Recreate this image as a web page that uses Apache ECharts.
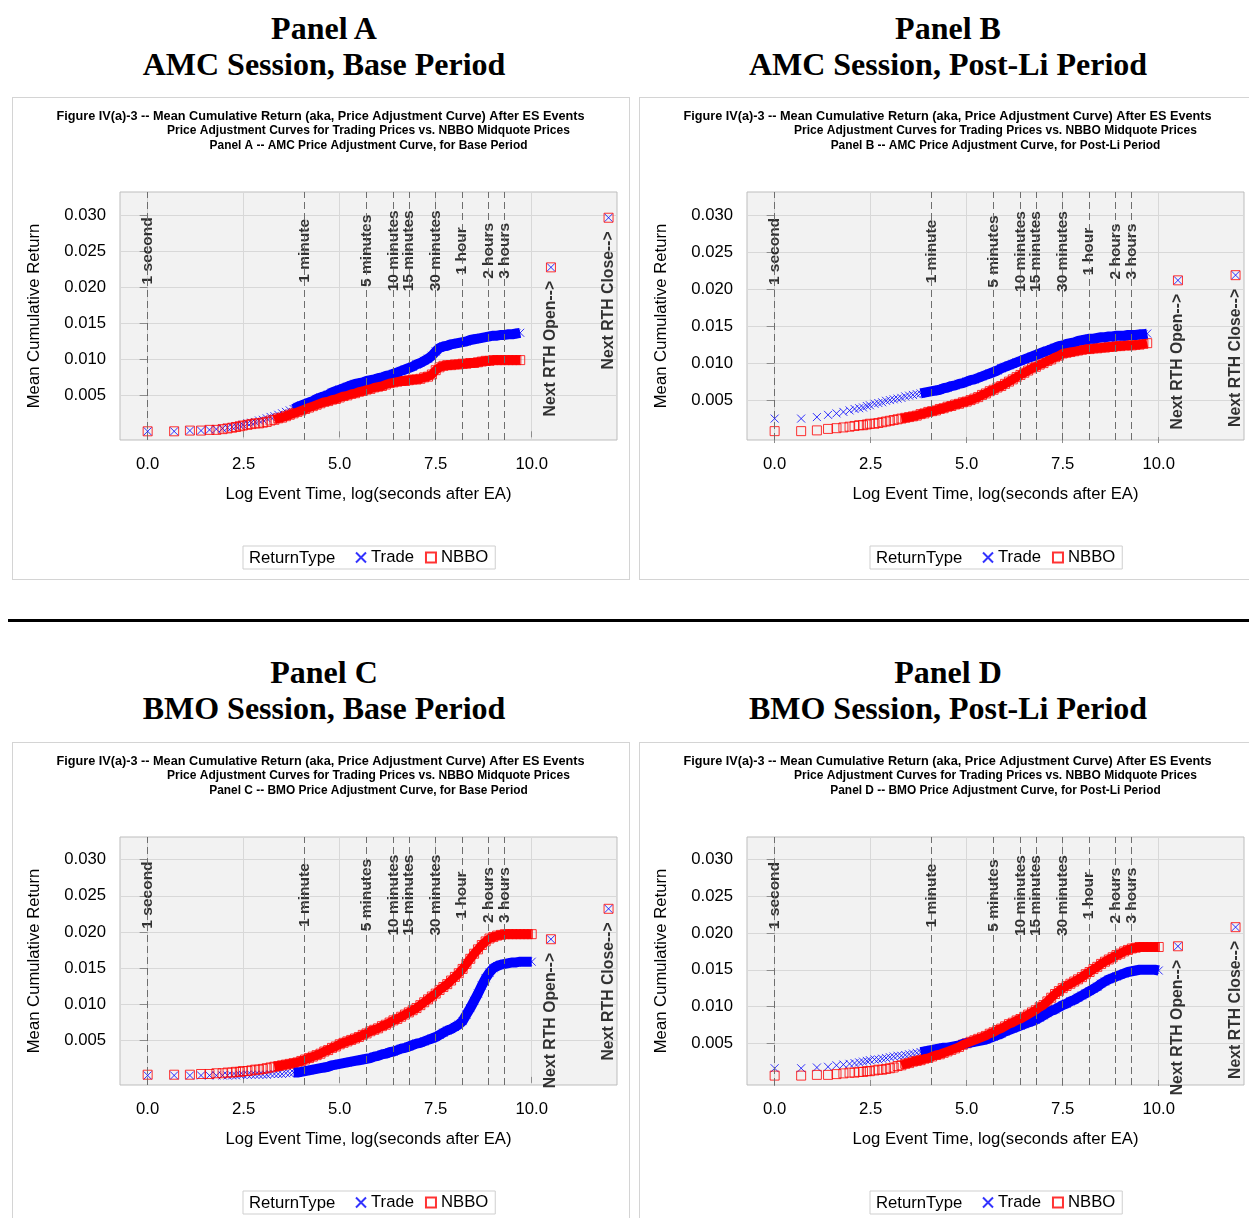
<!DOCTYPE html>
<html>
<head>
<meta charset="utf-8">
<script src="https://cdn.jsdelivr.net/npm/echarts@6/dist/echarts.min.js"></script>
<style>
  html, body { margin: 0; padding: 0; background: #fff; overflow: hidden; width: 1249px; height: 1218px; }
  .big { position: absolute; width: 600px; text-align: center; font-family: 'Liberation Serif', 'Times New Roman', serif;
         font-weight: bold; font-size: 32px; line-height: 36px; color: #000; }
  .frame { position: absolute; width: 616px; height: 481px; border: 1px solid #d4d4d4; }
  .chart { position: absolute; left: 0; top: 0; width: 616px; height: 481px; }
  .rule { position: absolute; left: 8px; top: 619px; width: 1241px; height: 3px; background: #000; }
</style>
</head>
<body>
<div class="big" style="left:24px;top:10px">Panel A<br>AMC Session, Base Period</div>
<div class="big" style="left:648px;top:10px">Panel B<br>AMC Session, Post-Li Period</div>
<div class="big" style="left:24px;top:654px">Panel C<br>BMO Session, Base Period</div>
<div class="big" style="left:648px;top:654px">Panel D<br>BMO Session, Post-Li Period</div>
<div class="rule"></div>
<div class="frame" style="left:12px;top:97px"><div class="chart" id="panelA"></div></div>
<div class="frame" style="left:639px;top:97px"><div class="chart" id="panelB"></div></div>
<div class="frame" style="left:12px;top:742px"><div class="chart" id="panelC"></div></div>
<div class="frame" style="left:639px;top:742px"><div class="chart" id="panelD"></div></div>

<script>
// log(seconds after EA): single seconds first, then the dense part of the curve
var logTime = [0, 0.69, 1.10, 1.39, 1.61, 1.79, 1.95, 2.08, 2.20, 2.30, 2.40, 2.48,
  2.6, 2.7, 2.8, 2.9, 3.0, 3.1, 3.2, 3.3, 3.4, 3.5, 3.6, 3.7, 3.8, 3.9,
  4.0, 4.1, 4.2, 4.3, 4.4, 4.5, 4.6, 4.7, 4.8, 4.9,
  5.0, 5.1, 5.2, 5.3, 5.4, 5.5, 5.6, 5.7, 5.8, 5.9,
  6.0, 6.1, 6.2, 6.3, 6.4, 6.5, 6.6, 6.7, 6.8, 6.9,
  7.0, 7.1, 7.2, 7.3, 7.4, 7.5, 7.6, 7.7, 7.8, 7.9,
  8.0, 8.1, 8.2, 8.3, 8.4, 8.5, 8.6, 8.7, 8.8, 8.9,
  9.0, 9.1, 9.2, 9.3, 9.4, 9.5, 9.6, 9.7, 9.8, 9.9,
  10.0];

// Panel A -- AMC, base period
var tradeA = [0.0000, 0.0000, 0.0001, 0.0001, 0.0002, 0.0003, 0.0004, 0.0005, 0.0006, 0.0007, 0.0008, 0.0009,
  0.0011, 0.0012, 0.0013, 0.0015, 0.0016, 0.0018, 0.0020, 0.0021, 0.0023, 0.0025, 0.0027, 0.0029, 0.0031, 0.0034,
  0.0036, 0.0038, 0.0040, 0.0042, 0.0045, 0.0047, 0.0049, 0.0051, 0.0054, 0.0056,
  0.0058, 0.0060, 0.0062, 0.0064, 0.0066, 0.0067, 0.0068, 0.0070, 0.0071, 0.0072,
  0.0074, 0.0075, 0.0077, 0.0078, 0.0080, 0.0082, 0.0084, 0.0086, 0.0088, 0.0090,
  0.0093, 0.0095, 0.0098, 0.0101, 0.0105, 0.0111, 0.0116, 0.0118, 0.0119, 0.0121,
  0.0122, 0.0123, 0.0124, 0.0125, 0.0127, 0.0128, 0.0129, 0.0130, 0.0131, 0.0132,
  0.0133, 0.0133, 0.0134, 0.0134, 0.0135, 0.0135, 0.0136, 0.0137];
var nbboA = [0.0000, 0.0000, 0.0001, 0.0001, 0.0002, 0.0002, 0.0003, 0.0004, 0.0005, 0.0006, 0.0007, 0.0008,
  0.0009, 0.0010, 0.0011, 0.0011, 0.0012, 0.0013, 0.0015, 0.0016, 0.0018, 0.0019, 0.0021, 0.0023, 0.0025, 0.0027,
  0.0029, 0.0031, 0.0033, 0.0035, 0.0037, 0.0039, 0.0041, 0.0042, 0.0044, 0.0045,
  0.0047, 0.0049, 0.0050, 0.0052, 0.0053, 0.0055, 0.0056, 0.0058, 0.0059, 0.0061,
  0.0062, 0.0063, 0.0065, 0.0067, 0.0068, 0.0069, 0.0070, 0.0070, 0.0071, 0.0072,
  0.0072, 0.0073, 0.0075, 0.0076, 0.0079, 0.0085, 0.0089, 0.0091, 0.0092, 0.0092,
  0.0093, 0.0093, 0.0094, 0.0094, 0.0095, 0.0095, 0.0096, 0.0097, 0.0098, 0.0098,
  0.0099, 0.0099, 0.0099, 0.0099, 0.0099, 0.0099, 0.0099, 0.0099];
var rthA = [0.0228, 0.0297];

// Panel B -- AMC, post-Li period
var tradeB = [0.0025, 0.0025, 0.0027, 0.0030, 0.0032, 0.0034, 0.0036, 0.0038, 0.0039, 0.0040, 0.0042, 0.0043,
  0.0045, 0.0046, 0.0047, 0.0049, 0.0050, 0.0051, 0.0052, 0.0053, 0.0055, 0.0056, 0.0057, 0.0058, 0.0059, 0.0060,
  0.0061, 0.0062, 0.0063, 0.0064, 0.0066, 0.0067, 0.0069, 0.0070, 0.0072, 0.0073,
  0.0075, 0.0077, 0.0078, 0.0080, 0.0082, 0.0084, 0.0086, 0.0088, 0.0090, 0.0093,
  0.0095, 0.0097, 0.0099, 0.0101, 0.0103, 0.0105, 0.0107, 0.0109, 0.0111, 0.0113,
  0.0115, 0.0117, 0.0119, 0.0121, 0.0123, 0.0124, 0.0126, 0.0127, 0.0128, 0.0130,
  0.0131, 0.0132, 0.0133, 0.0133, 0.0134, 0.0135, 0.0135, 0.0136, 0.0136, 0.0137,
  0.0137, 0.0137, 0.0138, 0.0138, 0.0138, 0.0139, 0.0139, 0.0140];
var nbboB = [0.0008, 0.0008, 0.0009, 0.0011, 0.0012, 0.0013, 0.0014, 0.0015, 0.0016, 0.0016, 0.0017, 0.0018,
  0.0018, 0.0019, 0.0020, 0.0021, 0.0022, 0.0023, 0.0024, 0.0025, 0.0026, 0.0027, 0.0028, 0.0029, 0.0031, 0.0032,
  0.0034, 0.0035, 0.0036, 0.0038, 0.0039, 0.0041, 0.0042, 0.0044, 0.0045, 0.0047,
  0.0048, 0.0050, 0.0052, 0.0054, 0.0057, 0.0059, 0.0062, 0.0064, 0.0067, 0.0069,
  0.0072, 0.0075, 0.0078, 0.0081, 0.0084, 0.0087, 0.0090, 0.0093, 0.0095, 0.0098,
  0.0100, 0.0103, 0.0105, 0.0108, 0.0110, 0.0113, 0.0114, 0.0115, 0.0116, 0.0117,
  0.0118, 0.0119, 0.0119, 0.0120, 0.0120, 0.0121, 0.0121, 0.0122, 0.0122, 0.0123,
  0.0123, 0.0124, 0.0124, 0.0124, 0.0125, 0.0125, 0.0126, 0.0127];
var rthB = [0.0212, 0.0219];

// Panel C -- BMO, base period
var tradeC = [0.0002, 0.0002, 0.0002, 0.0002, 0.0002, 0.0002, 0.0002, 0.0002, 0.0002, 0.0002, 0.0003, 0.0003,
  0.0003, 0.0003, 0.0003, 0.0003, 0.0003, 0.0003, 0.0004, 0.0004, 0.0004, 0.0004, 0.0005, 0.0005, 0.0006, 0.0006,
  0.0007, 0.0008, 0.0009, 0.0010, 0.0011, 0.0012, 0.0013, 0.0014, 0.0016, 0.0017,
  0.0018, 0.0019, 0.0020, 0.0021, 0.0022, 0.0023, 0.0024, 0.0025, 0.0026, 0.0028,
  0.0029, 0.0031, 0.0032, 0.0034, 0.0035, 0.0037, 0.0039, 0.0040, 0.0042, 0.0044,
  0.0046, 0.0047, 0.0049, 0.0051, 0.0053, 0.0055, 0.0058, 0.0061, 0.0064, 0.0066,
  0.0069, 0.0072, 0.0077, 0.0086, 0.0095, 0.0105, 0.0115, 0.0126, 0.0136, 0.0144,
  0.0150, 0.0153, 0.0155, 0.0156, 0.0157, 0.0158, 0.0158, 0.0159, 0.0159, 0.0159,
  0.0159];
var nbboC = [0.0003, 0.0003, 0.0003, 0.0004, 0.0004, 0.0005, 0.0005, 0.0006, 0.0006, 0.0007, 0.0007, 0.0008,
  0.0008, 0.0009, 0.0010, 0.0010, 0.0011, 0.0012, 0.0013, 0.0014, 0.0015, 0.0016, 0.0017, 0.0018, 0.0019, 0.0020,
  0.0022, 0.0024, 0.0026, 0.0028, 0.0030, 0.0032, 0.0035, 0.0037, 0.0040, 0.0042,
  0.0045, 0.0047, 0.0049, 0.0051, 0.0053, 0.0055, 0.0058, 0.0060, 0.0063, 0.0065,
  0.0067, 0.0070, 0.0072, 0.0075, 0.0078, 0.0080, 0.0083, 0.0086, 0.0089, 0.0092,
  0.0095, 0.0099, 0.0103, 0.0107, 0.0111, 0.0115, 0.0120, 0.0124, 0.0128, 0.0133,
  0.0138, 0.0143, 0.0149, 0.0156, 0.0163, 0.0170, 0.0176, 0.0182, 0.0187, 0.0191,
  0.0193, 0.0195, 0.0196, 0.0197, 0.0197, 0.0197, 0.0197, 0.0197, 0.0197, 0.0197,
  0.0197];
var rthC = [0.0190, 0.0232];

// Panel D -- BMO, post-Li period
var tradeD = [0.0016, 0.0016, 0.0017, 0.0018, 0.0020, 0.0021, 0.0022, 0.0023, 0.0024, 0.0025, 0.0026, 0.0027,
  0.0028, 0.0028, 0.0029, 0.0030, 0.0031, 0.0032, 0.0033, 0.0033, 0.0034, 0.0035, 0.0036, 0.0037, 0.0038, 0.0039,
  0.0040, 0.0041, 0.0042, 0.0043, 0.0044, 0.0044, 0.0045, 0.0046, 0.0047, 0.0049,
  0.0050, 0.0051, 0.0052, 0.0053, 0.0054, 0.0055, 0.0057, 0.0059, 0.0061, 0.0063,
  0.0066, 0.0068, 0.0070, 0.0072, 0.0074, 0.0076, 0.0078, 0.0080, 0.0082, 0.0085,
  0.0088, 0.0091, 0.0094, 0.0096, 0.0099, 0.0102, 0.0104, 0.0107, 0.0109, 0.0112,
  0.0115, 0.0118, 0.0121, 0.0124, 0.0127, 0.0131, 0.0134, 0.0137, 0.0139, 0.0141,
  0.0143, 0.0145, 0.0147, 0.0148, 0.0149, 0.0150, 0.0150, 0.0150, 0.0150, 0.0150,
  0.0149];
var nbboD = [0.0006, 0.0006, 0.0007, 0.0007, 0.0008, 0.0009, 0.0010, 0.0010, 0.0011, 0.0011, 0.0012, 0.0012,
  0.0013, 0.0014, 0.0014, 0.0015, 0.0016, 0.0017, 0.0019, 0.0020, 0.0022, 0.0023, 0.0025, 0.0026, 0.0027, 0.0029,
  0.0030, 0.0032, 0.0034, 0.0035, 0.0037, 0.0039, 0.0041, 0.0043, 0.0045, 0.0048,
  0.0050, 0.0052, 0.0054, 0.0056, 0.0058, 0.0060, 0.0063, 0.0065, 0.0068, 0.0070,
  0.0073, 0.0076, 0.0078, 0.0081, 0.0083, 0.0086, 0.0089, 0.0092, 0.0095, 0.0099,
  0.0102, 0.0107, 0.0112, 0.0117, 0.0121, 0.0125, 0.0128, 0.0131, 0.0134, 0.0137,
  0.0140, 0.0144, 0.0147, 0.0151, 0.0154, 0.0158, 0.0161, 0.0164, 0.0167, 0.0170,
  0.0172, 0.0175, 0.0177, 0.0179, 0.0180, 0.0181, 0.0181, 0.0181, 0.0181, 0.0181,
  0.0181];
var rthD = [0.0182, 0.0208];

// next regular-trading-hours open / close points
var rthLogTime = [10.5, 12.0];
var rthNames = ['Next RTH Open-->', 'Next RTH Close-->'];

// reference lines
var refNames = ['1 second', '1 minute', '5 minutes', '10 minutes', '15 minutes', '30 minutes', '1 hour', '2 hours', '3 hours'];
var refLogTime = [0, 4.09, 5.70, 6.40, 6.80, 7.50, 8.19, 8.88, 9.29];
var refLabelY = 0.0251;

var xTicks = [0, 2.5, 5, 7.5, 10];
var yTicks = [0.005, 0.010, 0.015, 0.020, 0.025, 0.030];

var FONT = "'Liberation Sans', Arial, Helvetica, sans-serif";
var X_PATH = 'path://M0,0L10,10M10,0L0,10';
var BLUE = '#0000ff', RED = '#ff0000';
var AXIS_FS = 16.7;

function toPoints(vals) {
    return vals.map(function (v, i) { return [logTime[i], v]; });
}

function drawPanel(id, subtitle, trade, nbbo, rth, yMin, yMax) {
    var chart = echarts.init(document.getElementById(id));
    var tradePts = toPoints(trade);
    var nbboPts = toPoints(nbbo);
    var rthPts = rth.map(function (v, i) { return [rthLogTime[i], v]; });
    // the markers merge into a solid band from here on
    var tradeBand = tradePts.filter(function (p) { return p[0] >= 3.8; });
    var nbboBand = nbboPts.filter(function (p) { return p[0] >= 3.3; });

    var option = {
        animation: false,
        textStyle: { fontFamily: FONT },
        graphic: [
            { type: 'text', x: 307.5, y: 18, style: { text: 'Figure IV(a)-3 -- Mean Cumulative Return (aka, Price Adjustment Curve) After ES Events',
                font: 'bold 12.7px ' + FONT, fill: '#000', align: 'center', verticalAlign: 'middle' } },
            { type: 'text', x: 355.5, y: 33, style: { text: 'Price Adjustment Curves for Trading Prices vs. NBBO Midquote Prices',
                font: 'bold 12px ' + FONT, fill: '#000', align: 'center', verticalAlign: 'middle' } },
            { type: 'text', x: 355.5, y: 48, style: { text: subtitle,
                font: 'bold 11.9px ' + FONT, fill: '#000', align: 'center', verticalAlign: 'middle' } },
            { type: 'text', x: 236, y: 460, z: 100, style: { text: 'ReturnType',
                font: AXIS_FS + 'px ' + FONT, fill: '#000', align: 'left', verticalAlign: 'middle' } }
        ],
        legend: {
            data: ['Trade', 'NBBO'], left: 230, top: 448, padding: [3, 7, 3, 112],
            itemWidth: 10, itemHeight: 10, itemGap: 11,
            borderColor: '#cfcfcf', borderWidth: 1, selectedMode: false,
            textStyle: { fontSize: AXIS_FS, color: '#000', fontFamily: FONT }
        },
        grid: { left: 107, top: 94, width: 497, height: 248, show: true,
                backgroundColor: '#f2f2f2', borderColor: '#bdbdbd', borderWidth: 1 },
        xAxis: {
            type: 'value', min: -0.72, max: 12.22,
            name: 'Log Event Time, log(seconds after EA)', nameLocation: 'middle', nameGap: 46,
            nameTextStyle: { fontSize: AXIS_FS, color: '#000', fontFamily: FONT },
            axisLine: { show: false },
            axisTick: { show: true, length: 6, customValues: xTicks, lineStyle: { color: '#8c8c8c' } },
            axisLabel: { customValues: xTicks, fontSize: AXIS_FS, color: '#000', margin: 16,
                         formatter: function (v) { return v.toFixed(1); } },
            splitLine: { show: true, lineStyle: { color: '#d8d8d8' } }
        },
        yAxis: {
            type: 'value', min: yMin, max: yMax,
            name: 'Mean Cumulative Return', nameLocation: 'middle', nameGap: 77,
            nameTextStyle: { fontSize: AXIS_FS, color: '#000', fontFamily: FONT },
            axisLine: { show: false },
            axisTick: { show: true, length: 8, customValues: yTicks, lineStyle: { color: '#8c8c8c' } },
            axisLabel: { customValues: yTicks, fontSize: AXIS_FS, color: '#000', margin: 14,
                         formatter: function (v) { return v.toFixed(3); } },
            splitLine: { show: true, lineStyle: { color: '#d8d8d8' } }
        },
        series: [
            {
                name: 'refs', type: 'scatter', silent: true, symbolSize: 1,
                itemStyle: { color: 'rgba(0,0,0,0)' },
                data: refLogTime.map(function (x, i) { return { value: [x, refLabelY], name: refNames[i] }; }),
                label: { show: true, formatter: '{b}', position: 'inside', rotate: 90,
                         fontSize: 15.5, fontWeight: 'bold', color: '#000', fontFamily: FONT },
                markLine: {
                    silent: true, symbol: ['none', 'none'], label: { show: false },
                    lineStyle: { type: [7, 4], color: '#6e6e6e', width: 1 },
                    data: refLogTime.map(function (x) { return { xAxis: x }; })
                }
            },
            { name: 'Trade band', type: 'line', silent: true, symbol: 'none',
              lineStyle: { color: BLUE, width: 10 }, data: tradeBand },
            { name: 'Trade', type: 'scatter', silent: true, symbol: X_PATH, symbolSize: 8,
              itemStyle: { color: 'rgba(0,0,0,0)', borderColor: BLUE, borderWidth: 1 },
              data: tradePts.concat(rthPts) },
            { name: 'NBBO band', type: 'line', silent: true, symbol: 'none',
              lineStyle: { color: RED, width: 9 }, data: nbboBand },
            { name: 'NBBO', type: 'scatter', silent: true, symbol: 'rect', symbolSize: 9,
              itemStyle: { color: 'rgba(0,0,0,0)', borderColor: RED, borderWidth: 1 },
              data: nbboPts.concat(rthPts) },
            {
                name: 'rth labels', type: 'scatter', silent: true, symbolSize: 9,
                itemStyle: { color: 'rgba(0,0,0,0)' },
                data: rthPts.map(function (p, i) { return { value: p, name: rthNames[i] }; }),
                label: { show: true, formatter: '{b}', position: 'bottom', distance: 9, rotate: 90,
                         align: 'right', verticalAlign: 'middle',
                         fontSize: 15.8, fontWeight: 'bold', color: '#000', fontFamily: FONT }
            }
        ]
    };
    chart.setOption(option);
}

drawPanel('panelA', 'Panel A -- AMC Price Adjustment Curve, for Base Period', tradeA, nbboA, rthA, -0.00121, 0.03328);
drawPanel('panelB', 'Panel B -- AMC Price Adjustment Curve, for Post-Li Period', tradeB, nbboB, rthB, -0.0004, 0.03315);
drawPanel('panelC', 'Panel C -- BMO Price Adjustment Curve, for Base Period', tradeC, nbboC, rthC, -0.00112, 0.03311);
drawPanel('panelD', 'Panel D -- BMO Price Adjustment Curve, for Post-Li Period', tradeD, nbboD, rthD, -0.00068, 0.03307);
</script>
</body>
</html>
